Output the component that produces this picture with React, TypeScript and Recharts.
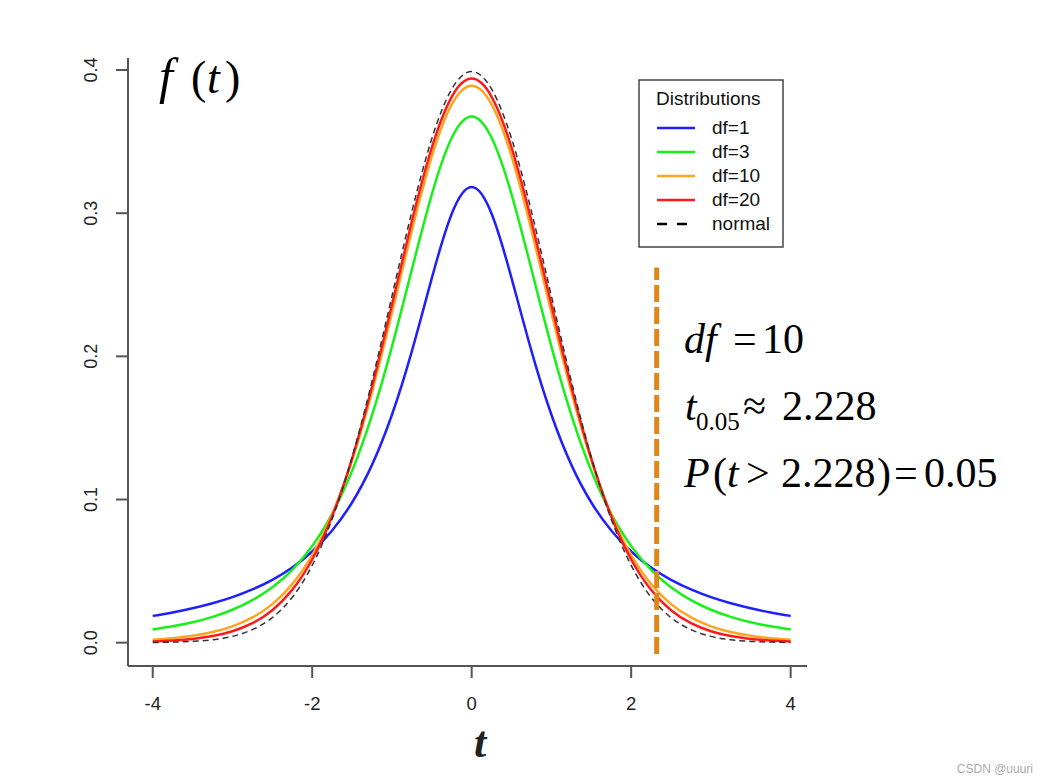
import React from "react";
import { LineChart, Line, XAxis, YAxis, ReferenceLine } from "recharts";

// t grid and densities
const tValues = [
  -4, -3.75, -3.5, -3.25, -3, -2.75, -2.5, -2.25, -2, -1.75, -1.5, -1.25, -1, -0.75, -0.5, -0.25,
  0, 0.25, 0.5, 0.75, 1, 1.25, 1.5, 1.75, 2, 2.25, 2.5, 2.75, 3, 3.25, 3.5, 3.75, 4,
];

const df1 = [
  0.0187, 0.0211, 0.024, 0.0275, 0.0318, 0.0372, 0.0439, 0.0525, 0.0637, 0.0784, 0.0979, 0.1242,
  0.1592, 0.2037, 0.2546, 0.2996, 0.3183, 0.2996, 0.2546, 0.2037, 0.1592, 0.1242, 0.0979, 0.0784,
  0.0637, 0.0525, 0.0439, 0.0372, 0.0318, 0.0275, 0.024, 0.0211, 0.0187,
];

const df3 = [
  0.0092, 0.0114, 0.0142, 0.018, 0.023, 0.0297, 0.0387, 0.0509, 0.0675, 0.09, 0.12, 0.1589,
  0.2068, 0.2607, 0.3132, 0.3527, 0.3676, 0.3527, 0.3132, 0.2607, 0.2068, 0.1589, 0.12, 0.09,
  0.0675, 0.0509, 0.0387, 0.0297, 0.023, 0.018, 0.0142, 0.0114, 0.0092,
];

const df10 = [
  0.002, 0.0031, 0.0048, 0.0074, 0.0114, 0.0176, 0.0269, 0.0409, 0.0611, 0.0895, 0.1274, 0.1751,
  0.2304, 0.288, 0.3397, 0.376, 0.3891, 0.376, 0.3397, 0.288, 0.2304, 0.1751, 0.1274, 0.0895,
  0.0611, 0.0409, 0.0269, 0.0176, 0.0114, 0.0074, 0.0048, 0.0031, 0.002,
];

const df20 = [
  0.0008, 0.0015, 0.0026, 0.0046, 0.008, 0.0136, 0.0227, 0.0369, 0.0581, 0.0883, 0.1286, 0.1788,
  0.236, 0.2944, 0.3458, 0.3813, 0.394, 0.3813, 0.3458, 0.2944, 0.236, 0.1788, 0.1286, 0.0883,
  0.0581, 0.0369, 0.0227, 0.0136, 0.008, 0.0046, 0.0026, 0.0015, 0.0008,
];

const normal = [
  0.0001, 0.0004, 0.0009, 0.002, 0.0044, 0.0091, 0.0175, 0.0317, 0.054, 0.0863, 0.1295, 0.1826,
  0.242, 0.3011, 0.3521, 0.3867, 0.3989, 0.3867, 0.3521, 0.3011, 0.242, 0.1826, 0.1295, 0.0863,
  0.054, 0.0317, 0.0175, 0.0091, 0.0044, 0.002, 0.0009, 0.0004, 0.0001,
];

const xTicks = [-4, -2, 0, 2, 4];
const yTicks = [0, 0.1, 0.2, 0.3, 0.4];

const critX = 2.32;
const critTop = 0.262;
const critBottom = -0.008;

const series = [
  { key: "df1", name: "df=1", color: "#1f1fff", dash: undefined as string | undefined, width: 2.5 },
  { key: "df3", name: "df=3", color: "#19f019", dash: undefined, width: 2.5 },
  { key: "df10", name: "df=10", color: "#ffa520", dash: undefined, width: 2.5 },
  { key: "df20", name: "df=20", color: "#ff1a1a", dash: undefined, width: 2.5 },
  { key: "normal", name: "normal", color: "#333333", dash: "6 4", width: 1.5 },
];

const data = tValues.map((t, i) => ({
  t,
  df1: df1[i],
  df3: df3[i],
  df10: df10[i],
  df20: df20[i],
  normal: normal[i],
}));

const sans = "'Liberation Sans', Arial, sans-serif";
const serif = "'Liberation Serif', 'Times New Roman', serif";

function XTick(props: any) {
  const { x, y, payload } = props;
  return (
    <text x={x} y={y + 30} textAnchor="middle" fontFamily={sans} fontSize={18.5} fill="#222">
      {payload.value}
    </text>
  );
}

function YTick(props: any) {
  const { x, y, payload } = props;
  const tx = x - 17;
  return (
    <text
      x={tx}
      y={y}
      transform={`rotate(-90, ${tx}, ${y})`}
      textAnchor="middle"
      fontFamily={sans}
      fontSize={18}
      fill="#222"
    >
      {Number(payload.value).toFixed(1)}
    </text>
  );
}

export default function App() {
  return (
    <div style={{ position: "absolute", left: 0, top: 0, width: 1047, height: 784, background: "#fff" }}>
      <LineChart
        width={1047}
        height={784}
        data={data}
        margin={{ top: 58, right: 240, bottom: 68, left: 68 }}
      >
        <XAxis
          dataKey="t"
          type="number"
          domain={[-4.31, 4.205]}
          ticks={xTicks}
          allowDataOverflow
          height={50}
          tickSize={12}
          axisLine={{ stroke: "#555", strokeWidth: 2 }}
          tickLine={{ stroke: "#555", strokeWidth: 2 }}
          tick={<XTick />}
        />
        <YAxis
          type="number"
          domain={[-0.0163, 0.4084]}
          ticks={yTicks}
          allowDataOverflow
          width={60}
          tickSize={12}
          axisLine={{ stroke: "#555", strokeWidth: 2 }}
          tickLine={{ stroke: "#555", strokeWidth: 2 }}
          tick={<YTick />}
        />
        {series.map((s) => (
          <Line
            key={s.key}
            dataKey={s.key}
            name={s.name}
            type="natural"
            stroke={s.color}
            strokeWidth={s.width}
            strokeDasharray={s.dash}
            dot={false}
            activeDot={false}
            isAnimationActive={false}
          />
        ))}
        <ReferenceLine
          segment={[
            { x: critX, y: critBottom },
            { x: critX, y: critTop },
          ]}
          stroke="#e0861a"
          strokeWidth={5}
          strokeDasharray="17 5"
        />
      </LineChart>

      <svg
        width={1047}
        height={784}
        style={{ position: "absolute", left: 0, top: 0, pointerEvents: "none" }}
      >
        {/* f(t) */}
        <g fontFamily={serif} fontSize={46} fill="#000">
          <text x={159} y={93} fontSize={50} fontStyle="italic">f</text>
          <text x={191} y={93}>(</text>
          <text x={207} y={93} fontStyle="italic">t</text>
          <text x={225} y={93}>)</text>
        </g>

        {/* x label */}
        <text
          x={480}
          y={757}
          textAnchor="middle"
          fontFamily={serif}
          fontSize={44}
          fontStyle="italic"
          fontWeight="bold"
          fill="#222"
        >
          t
        </text>

        {/* annotations */}
        <g fontFamily={serif} fontSize={42} fill="#000">
          <text x={684} y={353} fontStyle="italic">df</text>
          <text x={733} y={353}>=</text>
          <text x={762} y={353}>10</text>

          <text x={685} y={420} fontStyle="italic">t</text>
          <text x={696} y={430} fontSize={25}>0.05</text>
          <text x={743} y={420}>≈</text>
          <text x={782} y={420}>2.228</text>

          <text x={684} y={487} fontStyle="italic">P</text>
          <text x={713} y={487}>(</text>
          <text x={727} y={487} fontStyle="italic">t</text>
          <text x={746} y={487}>&gt;</text>
          <text x={781} y={487}>2.228</text>
          <text x={877} y={487}>)</text>
          <text x={894} y={487}>=</text>
          <text x={924} y={487}>0.05</text>
        </g>

        {/* legend */}
        <rect x={639} y={80} width={144} height={167} fill="#fff" stroke="#444" strokeWidth={1.5} />
        <text x={656} y={105} fontFamily={sans} fontSize={19} fill="#111">
          Distributions
        </text>
        {series.map((s, i) => {
          const cy = 128 + i * 24;
          return (
            <g key={s.key}>
              {s.dash ? (
                <line x1={657} y1={cy} x2={690} y2={cy} stroke="#000" strokeWidth={2.5} strokeDasharray="10 10" />
              ) : (
                <line x1={657} y1={cy} x2={695} y2={cy} stroke={s.color} strokeWidth={2.5} />
              )}
              <text x={712} y={cy + 6} fontFamily={sans} fontSize={19} fill="#111">
                {s.name}
              </text>
            </g>
          );
        })}

        {/* watermark */}
        <text x={1033} y={773} textAnchor="end" fontFamily={sans} fontSize={12} fill="#aaa">
          CSDN @uuuri
        </text>
      </svg>
    </div>
  );
}
